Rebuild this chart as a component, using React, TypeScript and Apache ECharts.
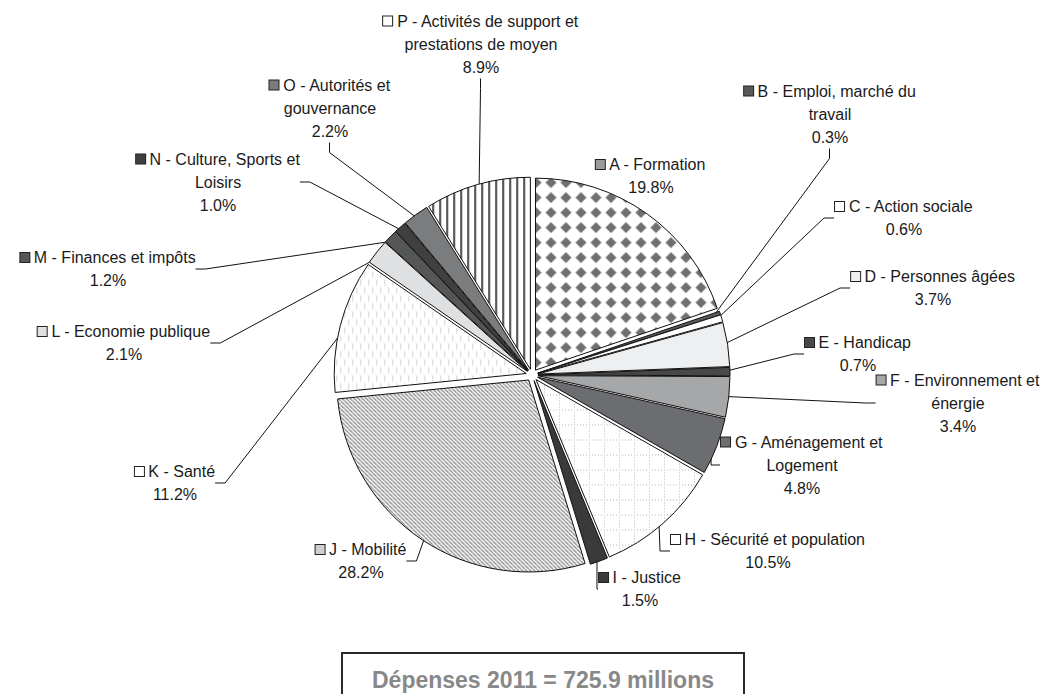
import React, { useEffect, useRef } from 'react';
import * as echarts from 'echarts';

// ---- Data ----
const names: string[] = [
  'A - Formation',
  'B - Emploi, marché du\ntravail',
  'C - Action sociale',
  'D - Personnes âgées',
  'E - Handicap',
  'F - Environnement et\nénergie',
  'G - Aménagement et\nLogement',
  'H - Sécurité et population',
  'I - Justice',
  'J - Mobilité',
  'K - Santé',
  'L - Economie publique',
  'M - Finances et impôts',
  'N - Culture, Sports et\nLoisirs',
  'O - Autorités et\ngouvernance',
  'P - Activités de support et\nprestations de moyen',
];
const values: number[] = [19.8, 0.3, 0.6, 3.7, 0.7, 3.4, 4.8, 10.5, 1.5, 28.2, 11.2, 2.1, 1.2, 1.0, 2.2, 8.9];
const totalText = 'Dépenses 2011 = 725.9 millions';

// ---- Styles (fills: a colour or a pattern name) ----
const fills: string[] = [
  'pat:diamonds', '#58595b', '#ffffff', '#eeeff1', '#474849', '#a6a7a9', '#6c6d70', 'pat:grid',
  '#3a3a3a', 'pat:diag', 'pat:dashes', '#dfe0e2', '#555658', '#3f4042', '#7b7c7e', 'pat:vstripes',
];
const markerColors: string[] = [
  '#9a9a9a', '#58595b', '#ffffff', '#eeeff1', '#474849', '#a6a7a9', '#6c6d70', '#ffffff',
  '#3a3a3a', '#cfcfcf', '#ffffff', '#dfe0e2', '#555658', '#3f4042', '#7b7c7e', '#ffffff',
];
// label block centres (layout only)
const labelPos: number[][] = [
  [651, 176], [830, 114], [904, 218], [933, 288], [858, 354], [958, 403], [802, 465], [768, 551],
  [640, 589], [361, 561], [175, 483], [124, 343], [108, 269], [218, 182], [330, 108], [481, 44],
];

function makeCanvas(w: number, h: number, draw: (ctx: CanvasRenderingContext2D) => void) {
  const c = document.createElement('canvas');
  c.width = w;
  c.height = h;
  const ctx = c.getContext('2d')!;
  ctx.fillStyle = '#ffffff';
  ctx.fillRect(0, 0, w, h);
  draw(ctx);
  return c;
}

function buildPattern(kind: string): any {
  let canvas: HTMLCanvasElement;
  if (kind === 'diamonds') {
    canvas = makeCanvas(15, 15, (ctx) => {
      ctx.fillStyle = '#6f6f6f';
      ctx.beginPath();
      ctx.moveTo(7.5, 2);
      ctx.lineTo(13, 7.5);
      ctx.lineTo(7.5, 13);
      ctx.lineTo(2, 7.5);
      ctx.closePath();
      ctx.fill();
    });
  } else if (kind === 'diag') {
    canvas = makeCanvas(4, 4, (ctx) => {
      ctx.strokeStyle = '#8a8a8a';
      ctx.lineWidth = 1.3;
      for (const c of [-4, 0, 4]) {
        ctx.beginPath();
        ctx.moveTo(c, 0);
        ctx.lineTo(c + 4, 4);
        ctx.stroke();
      }
    });
  } else if (kind === 'grid') {
    canvas = makeCanvas(15, 15, (ctx) => {
      ctx.fillStyle = '#b3b3b3';
      for (let k = 0; k < 15; k += 3) {
        ctx.fillRect(k, 0, 1, 1);
        ctx.fillRect(0, k, 1, 1);
      }
    });
  } else if (kind === 'dashes') {
    canvas = makeCanvas(8, 16, (ctx) => {
      ctx.fillStyle = '#dadada';
      ctx.fillRect(2, 1, 1.2, 6);
      ctx.fillRect(6, 9, 1.2, 6);
    });
  } else {
    canvas = makeCanvas(7, 7, (ctx) => {
      ctx.fillStyle = '#1e1e1e';
      ctx.fillRect(0, 0, 1.6, 7);
    });
  }
  return { image: canvas, repeat: 'repeat' };
}

export default function App() {
  const ref = useRef<HTMLDivElement>(null);

  useEffect(() => {
    if (!ref.current) return;
    const chart = echarts.init(ref.current, null, { renderer: 'svg' });
    const font = '"Liberation Sans", Arial, sans-serif';

    const sliceData = values.map((v, i) => {
      const f = fills[i];
      const color = f.startsWith('pat:') ? buildPattern(f.slice(4)) : f;
      return {
        name: names[i],
        value: v,
        selected: true,
        itemStyle: { color },
        select: { itemStyle: { color } },
      };
    });

    const labelData = values.map((v, i) => {
      const lines = names[i].split('\n');
      return {
        name: names[i],
        value: v,
        labelLine: { show: i !== 0 },
        label: {
          formatter: () =>
            lines.map((l, k) => (k === 0 ? `{m${i}|}{t| ${l}}` : `{t|${l}}`)).join('\n') +
            `\n{t|${v.toFixed(1)}%}`,
          rich: {
            [`m${i}`]: {
              width: 9,
              height: 9,
              backgroundColor: markerColors[i],
              borderColor: '#222',
              borderWidth: 1,
            },
            t: { fontSize: 16, fontFamily: font, color: '#1a1a1a', lineHeight: 23 },
          },
        },
      };
    });

    const common = {
      type: 'pie',
      center: [532, 375],
      radius: 192,
      startAngle: 90,
      clockwise: true,
      avoidLabelOverlap: false,
      emphasis: { disabled: true },
    };

    chart.setOption({
      animation: false,
      backgroundColor: '#ffffff',
      graphic: [
        {
          type: 'rect',
          shape: { x: 342, y: 653, width: 402, height: 60 },
          style: { fill: 'none', stroke: '#2a2a2a', lineWidth: 2 },
        },
        {
          type: 'text',
          x: 543,
          y: 680,
          style: {
            text: totalText,
            fill: '#888888',
            font: `bold 23px ${font}`,
            align: 'center',
            verticalAlign: 'middle',
          },
        },
      ],
      series: [
        {
          ...common,
          selectedMode: 'multiple',
          selectedOffset: 6,
          itemStyle: { borderColor: '#111', borderWidth: 1 },
          select: { itemStyle: { borderColor: '#111', borderWidth: 1 } },
          label: { show: false },
          labelLine: { show: false },
          data: sliceData,
        },
        {
          ...common,
          silent: true,
          selectedMode: false,
          itemStyle: { color: 'rgba(0,0,0,0)', borderWidth: 0 },
          label: {
            show: true,
            position: 'outside',
            fontSize: 16,
            fontFamily: font,
            color: '#1a1a1a',
            lineHeight: 23,
          },
          labelLine: {
            show: true,
            length: 10,
            length2: 10,
            lineStyle: { color: '#111', width: 1 },
          },
          labelLayout: (params: any) => {
            const p = labelPos[params.dataIndex];
            return { x: p[0], y: p[1], align: 'center', verticalAlign: 'middle' };
          },
          data: labelData,
        },
      ],
    });

    return () => chart.dispose();
  }, []);

  return (
    <div
      ref={ref}
      style={{ position: 'fixed', left: 0, top: 0, width: 1049, height: 694 }}
    />
  );
}
